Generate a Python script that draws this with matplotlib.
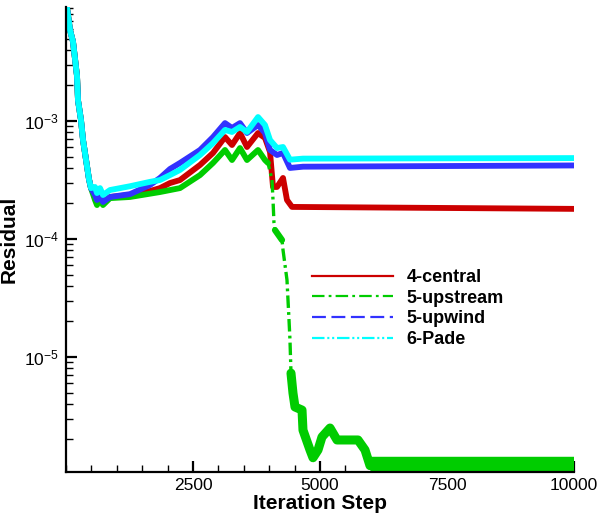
import matplotlib
matplotlib.use("Agg")
import matplotlib.pyplot as plt
from matplotlib.lines import Line2D
from matplotlib.ticker import MultipleLocator, LogLocator, NullFormatter
import numpy as np

plt.rcParams['font.family'] = ['Liberation Sans', 'DejaVu Sans']
plt.rcParams['mathtext.fontset'] = 'custom'
plt.rcParams['mathtext.rm'] = 'Liberation Sans'
plt.rcParams['lines.scale_dashes'] = False

# ---------------- data ----------------
common_iter = [0, 20, 79, 138, 217, 236, 295, 335, 394, 453, 492]
common_res = [1.0e-2, 9.1e-3, 5.9e-3, 4.7e-3, 2.4e-3, 1.5e-3, 1.02e-3, 6.9e-4, 4.7e-4, 3.2e-4, 2.7e-4]

central_iter = [571, 610, 670, 728, 866, 1260, 1654, 1850, 2047, 2244, 2638, 2894, 3130, 3268,
                3425, 3563, 3780, 3917, 4016, 4075, 4154, 4272, 4350, 4449, 10000]
central_res = [2.36e-4, 2.14e-4, 2.36e-4, 2.06e-4, 2.27e-4, 2.36e-4, 2.55e-4, 2.7e-4, 2.98e-4,
               3.16e-4, 4.24e-4, 5.36e-4, 7.31e-4, 6.26e-4, 7.91e-4, 6.02e-4, 7.91e-4, 7.18e-4,
               5.46e-4, 2.76e-4, 2.76e-4, 3.29e-4, 2.14e-4, 1.87e-4, 1.8e-4]

upstream_iter = [571, 610, 670, 728, 866, 1260, 1850, 2244, 2638, 2894, 3130, 3268, 3425, 3563,
                 3780, 3917, 3976, 4055, 4075, 4094, 4114, 4252, 4272, 4350, 4390, 4409, 4429,
                 4468, 4508, 4646, 4665, 4803, 4862, 4961, 5039, 5197, 5335, 5551, 5748, 5886,
                 5984, 10000]
upstream_res = [2.14e-4, 1.94e-4, 2.2e-4, 1.94e-4, 2.22e-4, 2.27e-4, 2.5e-4, 2.7e-4, 3.48e-4,
                4.41e-4, 5.68e-4, 4.67e-4, 5.9e-4, 4.67e-4, 5.68e-4, 4.67e-4, 4.41e-4, 3.16e-4,
                2.14e-4, 1.37e-4, 1.19e-4, 9.8e-5, 8.07e-5, 4.5e-5, 2.06e-5, 1.39e-5, 7.3e-6,
                4.95e-6, 3.77e-6, 3.55e-6, 2.4e-6, 1.63e-6, 1.4e-6, 1.63e-6, 2.1e-6, 2.5e-6,
                1.98e-6, 1.98e-6, 1.98e-6, 1.63e-6, 1.2e-6, 1.2e-6]

upwind_iter = [571, 610, 670, 728, 866, 1260, 1654, 1850, 2047, 2244, 2638, 2894, 3130, 3268,
               3425, 3563, 3780, 3917, 4016, 4154, 4272, 4409, 4665, 10000]
upwind_res = [2.36e-4, 2.14e-4, 2.36e-4, 2.06e-4, 2.27e-4, 2.4e-4, 2.87e-4, 3.29e-4, 3.92e-4,
              4.41e-4, 5.68e-4, 7.31e-4, 9.6e-4, 8.73e-4, 9.6e-4, 7.91e-4, 9.25e-4, 7.91e-4,
              5.68e-4, 5.15e-4, 5.36e-4, 4.0e-4, 4.1e-4, 4.2e-4]

pade_iter = [571, 610, 670, 728, 866, 1260, 1654, 1850, 2047, 2244, 2638, 2894, 3130, 3268,
             3425, 3563, 3780, 3917, 4016, 4154, 4272, 4409, 4665, 10000]
pade_res = [2.76e-4, 2.45e-4, 2.7e-4, 2.36e-4, 2.6e-4, 2.8e-4, 3.05e-4, 3.16e-4, 3.48e-4,
            3.85e-4, 5.15e-4, 6.5e-4, 8.4e-4, 8.07e-4, 8.9e-4, 8.07e-4, 1.08e-3, 9.25e-4,
            6.9e-4, 5.9e-4, 6.02e-4, 4.7e-4, 4.8e-4, 4.85e-4]

labels = ['4-central', '5-upstream', '5-upwind', '6-Pade']
colors = ['#cc0000', '#00cc00', '#3232ff', '#00ffff']
xticks = [2500, 5000, 7500, 10000]
xticklabels = ['2500', '5000', '7500', '10000']

# ---------------- figure ----------------
fig = plt.figure(figsize=(6.02, 5.19), dpi=100)
ax = fig.add_axes([66 / 602, 1 - 472 / 519, 508 / 602, 465 / 519])
ax.set_yscale('log')

def full(it, rs):
    return np.array(common_iter + it, dtype=float), np.array(common_res + rs, dtype=float)

x_c, y_c = full(central_iter, central_res)
x_u, y_u = full(upstream_iter, upstream_res)
x_w, y_w = full(upwind_iter, upwind_res)
x_p, y_p = full(pade_iter, pade_res)

lw = 4.2
ax.plot(x_c, y_c, color=colors[0], lw=lw, solid_joinstyle='round')
# green: dash-dot base, solid noisy parts on top
ax.plot(x_u, y_u, color=colors[1], lw=2.4, linestyle=(0, (9, 3, 2, 3)))
for lo, hi, w, cap in [(0, 3976, lw, 'round'), (4114, 4252, 4.5, 'round'),
                       (4429, 5984, 6.5, 'round'), (5984, 10000, 14.0, 'butt')]:
    m = (x_u >= lo) & (x_u <= hi)
    ax.plot(x_u[m], y_u[m], color=colors[1], lw=w, solid_joinstyle='round', solid_capstyle=cap)
ax.plot(x_w, y_w, color=colors[2], lw=lw, solid_joinstyle='round')
ax.plot(x_p, y_p, color=colors[3], lw=lw, solid_joinstyle='round')

ax.set_xlim(0, 10000)
ax.set_ylim(1.06e-6, 9.25e-3)

ax.set_xticks(xticks)
ax.set_xticklabels(xticklabels, fontsize=12.5)
ax.xaxis.set_minor_locator(MultipleLocator(500))
ax.yaxis.set_major_locator(LogLocator(base=10, numticks=20))
ax.yaxis.set_minor_locator(LogLocator(base=10, subs=np.arange(2, 10), numticks=20))
ax.yaxis.set_minor_formatter(NullFormatter())
ax.tick_params(axis='y', labelsize=12.5)

for s in ['top', 'right']:
    ax.spines[s].set_visible(False)
for s in ['left', 'bottom']:
    ax.spines[s].set_linewidth(1.6)

ax.tick_params(which='major', direction='in', length=8, width=1.6, pad=5)
ax.tick_params(which='minor', direction='in', length=5, width=1.0)
ax.tick_params(axis='x', which='major', pad=4)

ax.set_xlabel('Iteration Step', fontsize=15, fontweight='bold', labelpad=1)
ax.set_ylabel('Residual', fontsize=15, fontweight='bold', labelpad=4)

handles = [
    Line2D([], [], color=colors[0], lw=1.6, linestyle='-'),
    Line2D([], [], color=colors[1], lw=1.6, linestyle=(0, (9, 3, 2, 3))),
    Line2D([], [], color=colors[2], lw=1.6, linestyle=(0, (10, 4))),
    Line2D([], [], color=colors[3], lw=1.6, linestyle=(0, (9, 2, 1.5, 2, 1.5, 2))),
]
leg = ax.legend(handles, labels, loc='upper left', bbox_to_anchor=(312 / 602, 1 - 269 / 519),
                bbox_transform=fig.transFigure, frameon=False, borderpad=0, borderaxespad=0,
                handlelength=4.5, handletextpad=0.75, labelspacing=0.2,
                prop={'weight': 'bold', 'size': 13})

fig.savefig('out.png', dpi=100)
